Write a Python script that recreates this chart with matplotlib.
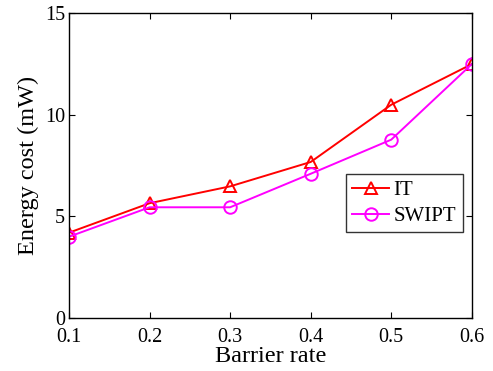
import matplotlib
matplotlib.use('Agg')
import matplotlib.pyplot as plt

plt.rcParams['font.family'] = ['Liberation Serif', 'DejaVu Serif']
plt.rcParams['mathtext.fontset'] = 'stix'

# data
barrier_rate = [0.1, 0.2, 0.3, 0.4, 0.5, 0.6]
it_cost = [4.2, 5.65, 6.48, 7.68, 10.5, 12.5]
swipt_cost = [4.0, 5.45, 5.45, 7.1, 8.78, 12.5]

fig = plt.figure(figsize=(4.93, 3.71), dpi=100)
ax = fig.add_axes([0.140, 0.143, 0.817, 0.821])

ax.plot(barrier_rate, it_cost, color='#ff0000', lw=1.4, marker='^',
        markersize=9, markerfacecolor='none', markeredgewidth=1.4, label='IT')
ax.plot(barrier_rate, swipt_cost, color='#ff00ff', lw=1.4, marker='o',
        markersize=9, markerfacecolor='none', markeredgewidth=1.4, label='SWIPT')

ax.set_xlim(0.1, 0.6)
ax.set_ylim(0, 15)
ax.set_xticks(barrier_rate)
ax.set_xticklabels(['0.1', '0.2', '0.3', '0.4', '0.5', '0.6'])
ax.set_yticks([0, 5, 10, 15])
ax.tick_params(direction='in', top=True, right=True, labelsize=14.5,
               length=4, width=0.8)
ax.tick_params(axis='x', pad=7.5)
ax.tick_params(axis='y', pad=3)
for s in ax.spines.values():
    s.set_linewidth(1.0)

ax.set_xlabel('Barrier rate', fontsize=17.5, labelpad=-1)
ax.set_ylabel('Energy cost (mW)', fontsize=17.5, labelpad=4)

leg = ax.legend(loc='upper left', bbox_to_anchor=(0.687, 0.472), fontsize=15,
                frameon=True, fancybox=False, borderpad=0.3, handlelength=1.8,
                handletextpad=0.2, labelspacing=0.3, borderaxespad=0)
leg.get_frame().set_edgecolor('black')
leg.get_frame().set_linewidth(1.0)

fig.savefig('out.png', dpi=100)
